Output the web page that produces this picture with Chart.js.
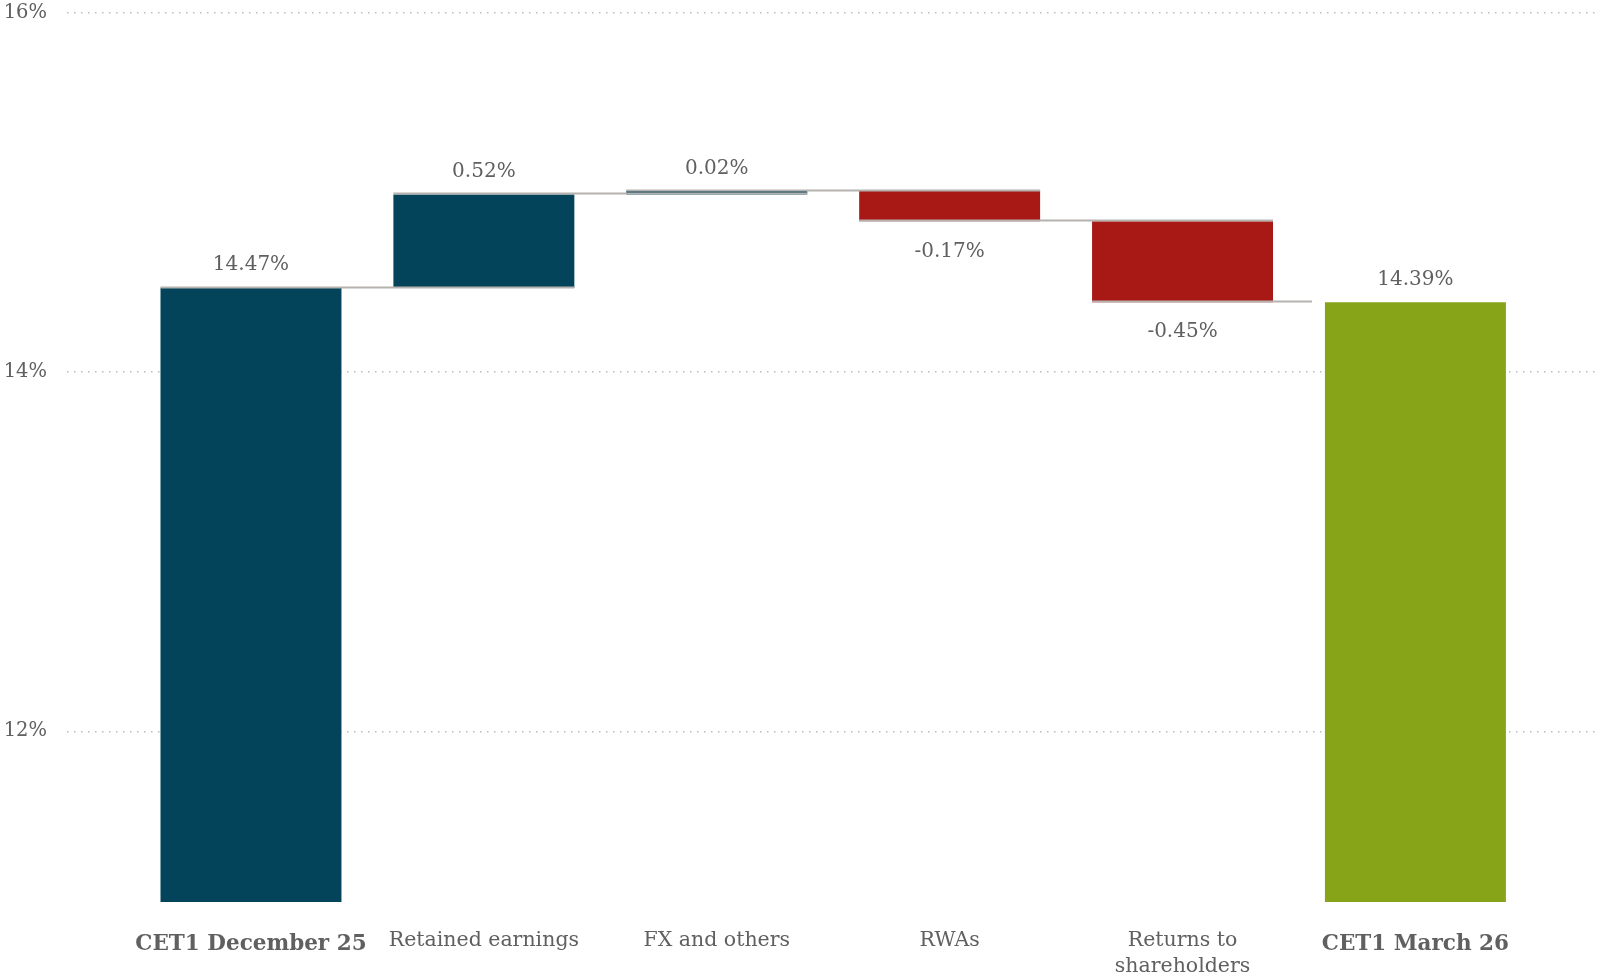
<!DOCTYPE html>
<html>
<head>
<meta charset="utf-8">
<title>CET1 ratio bridge</title>
<script src="https://cdn.jsdelivr.net/npm/chart.js@4.4.1/dist/chart.umd.min.js"></script>
<style>
  html, body { margin: 0; padding: 0; background: #fff; }
  #wrap { width: 1598px; height: 980px; }
</style>
</head>
<body>
<div id="wrap"><canvas id="cet1Chart"></canvas></div>
<script>
// CET1 ratio walk, quarter to quarter
const categories = [
  'CET1 December 25',
  'Retained earnings',
  'FX and others',
  'RWAs',
  ['Returns to', 'shareholders'],
  'CET1 March 26'
];
const openingRatio = 14.47;
const movements = [0.52, 0.02, -0.17, -0.45];
const closingRatio = 14.39;
const yTickValues = [12, 14, 16];

const FONT = "Georgia, 'DejaVu Serif', serif";
const TEXT_GREY = '#606060';
const colours = { total: '#03445a', up: '#03445a', down: '#a81916', end: '#87a317' };

// opening total, floating steps, closing total
const bars = [{ x: 0, y: openingRatio, kind: 'total', label: openingRatio }];
let level = openingRatio;
movements.forEach((m, i) => {
  const next = +(level + m).toFixed(2);
  bars.push({ x: i + 1, y: [level, next], kind: m >= 0 ? 'up' : 'down', label: m });
  level = next;
});
bars.push({ x: movements.length + 1, y: closingRatio, kind: 'end', label: closingRatio });

const barTop = item => Array.isArray(item.y) ? Math.max(...item.y) : item.y;
const barBottom = item => Array.isArray(item.y) ? Math.min(...item.y) : null;
const barEnd = item => Array.isArray(item.y) ? item.y[1] : item.y;
const isTotal = i => i === 0 || i === categories.length - 1;

// grey step lines joining one bar's end level to the next bar
const connectorPlugin = {
  id: 'connectors',
  afterDatasetsDraw(chart) {
    const els = chart.getDatasetMeta(0).data;
    const yScale = chart.scales.y;
    const ctx = chart.ctx;
    ctx.save();
    ctx.strokeStyle = '#b5b2af';
    ctx.lineWidth = 2;
    for (let i = 0; i < els.length - 1; i++) {
      const cur = els[i];
      const nxt = els[i + 1];
      const x0 = cur.x - cur.width / 2;
      const x1 = bars[i + 1].kind === 'end'
        ? nxt.x - nxt.width / 2 - 13
        : nxt.x + nxt.width / 2;
      const py = Math.round(yScale.getPixelForValue(barEnd(bars[i]))) - 0.5;
      ctx.beginPath();
      ctx.moveTo(x0, py);
      ctx.lineTo(x1, py);
      ctx.stroke();
    }
    ctx.restore();
  }
};

// value labels: above for totals and gains, below for deductions
const valueLabelPlugin = {
  id: 'valueLabels',
  afterDatasetsDraw(chart) {
    const els = chart.getDatasetMeta(0).data;
    const yScale = chart.scales.y;
    const ctx = chart.ctx;
    ctx.save();
    ctx.font = '20px ' + FONT;
    ctx.fillStyle = TEXT_GREY;
    ctx.textAlign = 'center';
    ctx.textBaseline = 'middle';
    bars.forEach((item, i) => {
      const text = item.label.toFixed(2) + '%';
      if (item.label < 0) {
        ctx.fillText(text, els[i].x, yScale.getPixelForValue(barBottom(item)) + 30);
      } else {
        ctx.fillText(text, els[i].x, yScale.getPixelForValue(barTop(item)) - 22.5);
      }
    });
    ctx.restore();
  }
};

new Chart(document.getElementById('cet1Chart'), {
  type: 'bar',
  data: {
    datasets: [{
      data: bars,
      backgroundColor: bars.map(b => colours[b.kind]),
      borderWidth: 0,
      categoryPercentage: 1,
      barPercentage: 0.777
    }]
  },
  options: {
    responsive: true,
    maintainAspectRatio: false,
    animation: false,
    layout: { padding: { top: 13, right: 0, left: 0, bottom: 0 } },
    plugins: {
      legend: { display: false },
      tooltip: { enabled: false }
    },
    scales: {
      x: {
        type: 'linear',
        min: -0.79,
        max: 5.784,
        offset: false,
        grid: { display: false, offset: false },
        border: { display: false },
        afterBuildTicks: scale => {
          scale.ticks = categories.map((_, i) => ({ value: i }));
        },
        afterFit: scale => {
          scale.height = 78;
          scale.paddingLeft = 0;
          scale.paddingRight = 0;
        },
        ticks: {
          autoSkip: false,
          maxRotation: 0,
          minRotation: 0,
          padding: 18,
          color: TEXT_GREY,
          font: ctx => isTotal(ctx.index)
            ? { family: FONT, size: 21.5, lineHeight: 1.57, weight: 'bold' }
            : { family: FONT, size: 20.5, lineHeight: 1.25, weight: 'normal' },
          callback: v => categories[v]
        }
      },
      y: {
        min: 11.05,
        max: 16,
        border: { display: false, dash: [1.5, 5.5] },
        grid: {
          color: '#bdbdbd',
          lineWidth: 1.5,
          drawTicks: false
        },
        afterBuildTicks: scale => {
          scale.ticks = yTickValues.map(v => ({ value: v }));
        },
        afterFit: scale => {
          scale.width = 67;
          scale.paddingTop = 0;
          scale.paddingBottom = 0;
        },
        ticks: {
          padding: 20,
          color: TEXT_GREY,
          font: { family: FONT, size: 19.5 },
          callback: v => v + '%'
        }
      }
    }
  },
  plugins: [connectorPlugin, valueLabelPlugin]
});
</script>
</body>
</html>
